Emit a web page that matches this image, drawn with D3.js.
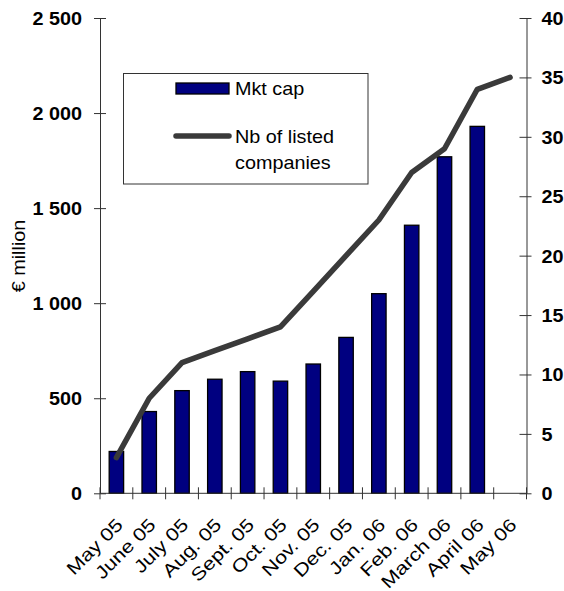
<!DOCTYPE html>
<html>
<head>
<meta charset="utf-8">
<script src="https://cdn.jsdelivr.net/npm/d3@7"></script>
<style>
  html, body { margin: 0; padding: 0; background: #fff; }
  svg { display: block; }
  text { font-family: "Liberation Sans", Arial, sans-serif; fill: #000; }
</style>
</head>
<body>
<svg id="chart" width="564" height="591"></svg>
<script>
// ---- data ----
const months = ["May 05","June 05","July 05","Aug. 05","Sept. 05","Oct. 05","Nov. 05","Dec. 05","Jan. 06","Feb. 06","March 06","April 06","May 06"];
const mktCap = [220, 430, 540, 600, 640, 590, 680, 820, 1050, 1410, 1770, 1930, null];
const nbListed = [3, 8, 11, 12, 13, 14, 17, 20, 23, 27, 29, 34, 35];
const leftTicks = [0, 500, 1000, 1500, 2000, 2500];
const leftTickLabels = ["0", "500", "1 000", "1 500", "2 000", "2 500"];
const rightTicks = [0, 5, 10, 15, 20, 25, 30, 35, 40];
const rightTickLabels = ["0", "5", "10", "15", "20", "25", "30", "35", "40"];
const seriesNames = ["Mkt cap", ["Nb of listed", "companies"]];
const yTitle = "€ million";

// ---- layout ----
const svg = d3.select("#chart");
const plotLeft = 100, plotRight = 526.5, plotTop = 18, plotBottom = 493.3;
const SX = 1.1; // horizontal font stretch
const FS = 18;

const x = d3.scaleBand().domain(months).range([plotLeft, plotRight]).padding(0);
const yL = d3.scaleLinear().domain([0, 2500]).range([plotBottom, plotTop]);
const yR = d3.scaleLinear().domain([0, 40]).range([plotBottom, plotTop]);
const barW = x.bandwidth() * 0.44;

const axisColor = "#333";

// bars
svg.append("g").selectAll("rect")
  .data(months.map((m, i) => ({m, v: mktCap[i]})).filter(d => d.v != null))
  .join("rect")
  .attr("x", d => x(d.m) + x.bandwidth() / 2 - barW / 2)
  .attr("y", d => yL(d.v))
  .attr("width", barW)
  .attr("height", d => yL(0) - yL(d.v))
  .attr("fill", "#000080")
  .attr("stroke", "#000")
  .attr("stroke-width", 1.3);

// left axis
const gL = svg.append("g").attr("transform", `translate(${plotLeft},0)`)
  .call(d3.axisLeft(yL).tickValues(leftTicks)
    .tickFormat((d, i) => leftTickLabels[i]).tickSizeInner(6).tickSizeOuter(0));
gL.select(".domain").attr("stroke", axisColor);
gL.selectAll(".tick line").attr("x1", 6).attr("stroke", axisColor);
gL.selectAll(".tick text")
  .attr("x", null).attr("dy", "0.36em")
  .attr("transform", `translate(-18,0) scale(${SX},1)`)
  .attr("text-anchor", "end")
  .style("font-size", FS + "px").style("font-weight", "bold")
  .style("font-family", '"Liberation Sans", Arial, sans-serif');

// right axis
const gR = svg.append("g").attr("transform", `translate(${plotRight},0)`)
  .call(d3.axisRight(yR).tickValues(rightTicks)
    .tickFormat((d, i) => rightTickLabels[i]).tickSizeInner(5).tickSizeOuter(0));
gR.select(".domain").attr("stroke", axisColor);
gR.selectAll(".tick line").attr("x1", -7).attr("stroke", axisColor);
gR.selectAll(".tick text")
  .attr("x", null).attr("dy", "0.36em")
  .attr("transform", `translate(15,0) scale(${SX},1)`)
  .attr("text-anchor", "start")
  .style("font-size", FS + "px").style("font-weight", "bold")
  .style("font-family", '"Liberation Sans", Arial, sans-serif');

// x axis
const gX = svg.append("g");
gX.append("line")
  .attr("x1", plotLeft).attr("x2", plotRight)
  .attr("y1", yL(0)).attr("y2", yL(0))
  .attr("stroke", axisColor);
const tickXs = months.map(m => x(m)).concat([x.range()[1]]);
gX.selectAll("line.xt").data(tickXs).join("line").attr("class", "xt")
  .attr("x1", d => d).attr("x2", d => d)
  .attr("y1", yL(0) - 6).attr("y2", yL(0) + 6)
  .attr("stroke", axisColor);
gX.selectAll("text").data(months).join("text")
  .attr("transform", d => `translate(${x(d) + x.bandwidth() / 2 + 3},${yL(0) + 28}) rotate(-45) scale(1.2,1)`)
  .attr("text-anchor", "end")
  .attr("dy", "0.36em")
  .style("font-size", FS + "px")
  .text(d => d);

// line
const line = d3.line()
  .x((d, i) => x(months[i]) + x.bandwidth() / 2)
  .y(d => yR(d));
svg.append("path")
  .datum(nbListed)
  .attr("d", line)
  .attr("fill", "none")
  .attr("stroke", "#3a3a3a")
  .attr("stroke-width", 5.5)
  .attr("stroke-linejoin", "round")
  .attr("stroke-linecap", "round");

// y title
svg.append("text")
  .attr("transform", `translate(19,256) rotate(-90) scale(${SX},1)`)
  .attr("text-anchor", "middle")
  .attr("dy", "0.36em")
  .style("font-size", FS + "px")
  .text(yTitle);

// legend
const lg = svg.append("g");
lg.append("rect")
  .attr("x", 123.5).attr("y", 73.5).attr("width", 244.5).attr("height", 110.5)
  .attr("fill", "#fff").attr("stroke", "#333").attr("stroke-width", 1);
lg.append("rect")
  .attr("x", 176).attr("y", 83).attr("width", 53).attr("height", 11)
  .attr("fill", "#000080").attr("stroke", "#000").attr("stroke-width", 1.3);
lg.append("line")
  .attr("x1", 176).attr("x2", 229).attr("y1", 136).attr("y2", 136)
  .attr("stroke", "#3a3a3a").attr("stroke-width", 5.5).attr("stroke-linecap", "round");
lg.append("text")
  .attr("transform", `translate(235,95) scale(${SX},1)`)
  .style("font-size", FS + "px")
  .text(seriesNames[0]);
lg.append("text")
  .attr("transform", `translate(235,143) scale(${SX},1)`)
  .style("font-size", FS + "px")
  .text(seriesNames[1][0]);
lg.append("text")
  .attr("transform", `translate(235,169) scale(${SX},1)`)
  .style("font-size", FS + "px")
  .text(seriesNames[1][1]);
</script>
</body>
</html>
